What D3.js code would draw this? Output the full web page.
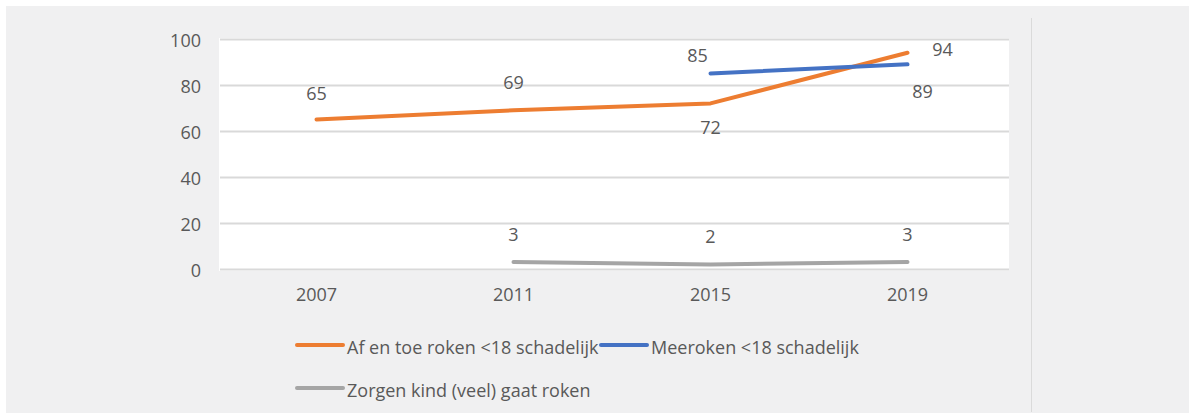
<!DOCTYPE html>
<html>
<head>
<meta charset="utf-8">
<script src="https://cdn.jsdelivr.net/npm/d3@7/dist/d3.min.js"></script>
<style>
  html, body { margin: 0; padding: 0; background: #ffffff; }
  svg { display: block; }
  text { font-family: "Open Sans", sans-serif; fill: #595959; }
</style>
</head>
<body>
<svg id="chart" width="1189" height="414"></svg>
<script>
// ---- data ----
const years = ["2007", "2011", "2015", "2019"];
const afEnToe = [65, 69, 72, 94];
const meeroken = [null, null, 85, 89];
const zorgen = [null, 3, 2, 3];
const seriesNames = ["Af en toe roken <18 schadelijk", "Meeroken <18 schadelijk", "Zorgen kind (veel) gaat roken"];
const yTicks = [0, 20, 40, 60, 80, 100];

// ---- styling / layout ----
const colors = ["#ED7D31", "#4472C4", "#A5A5A5"];
// data label offsets (dx, dy) per series per point
const labelOffsets = [
  [[0, -27], [0, -28], [0, 24], [35, -4]],
  [null, null, [-13, -19], [15, 27]],
  [null, [0, -28], [0, -28], [0, -28]]
];

const svg = d3.select("#chart");
const W = 1189, H = 414;

svg.append("rect").attr("x", 6).attr("y", 6).attr("width", W - 6).attr("height", H - 7).attr("fill", "#f0f0f1");
svg.append("line").attr("x1", 1031.5).attr("x2", 1031.5).attr("y1", 18).attr("y2", 412)
  .attr("stroke", "#dadada").attr("stroke-width", 1);

const plot = { left: 218, right: 1006, top: 39, bottom: 269 };
svg.append("rect").attr("x", 219).attr("y", 38).attr("width", 790).attr("height", 233).attr("fill", "#ffffff");

const x = d3.scaleBand().domain(years).range([plot.left, plot.right]);
const y = d3.scaleLinear().domain([0, 100]).range([plot.bottom, plot.top]);
const cx = d => x(d) + x.bandwidth() / 2;

// gridlines via axis
const grid = svg.append("g").attr("transform", `translate(${plot.left + 2},0)`)
  .call(d3.axisLeft(y).tickValues(yTicks).tickSize(-(plot.right - plot.left + 1)).tickFormat(""));
grid.select(".domain").remove();
grid.selectAll(".tick line").attr("stroke", "#d9d9d9").attr("stroke-width", 2);

// y labels
const yAx = svg.append("g").attr("transform", `translate(201,2)`)
  .call(d3.axisLeft(y).tickValues(yTicks).tickSize(0).tickPadding(0));
yAx.select(".domain").remove();
yAx.selectAll("text").style("font-size", "18px").attr("fill", "#595959").style("font-family", "'Open Sans', sans-serif");

// x labels
const xAx = svg.append("g").attr("transform", `translate(0,${plot.bottom})`)
  .call(d3.axisBottom(x).tickSize(0).tickPadding(19));
xAx.select(".domain").remove();
xAx.selectAll("text").style("font-size", "18px").attr("fill", "#595959").style("font-family", "'Open Sans', sans-serif");

const allSeries = [afEnToe, meeroken, zorgen];
const line = d3.line().defined(d => d.v != null).x(d => cx(d.year)).y(d => y(d.v));

allSeries.forEach((vals, si) => {
  const pts = years.map((yr, i) => ({ year: yr, v: vals[i], i }));
  svg.append("path").datum(pts).attr("d", line).attr("fill", "none")
    .attr("stroke", colors[si]).attr("stroke-width", 4).attr("stroke-linecap", "round").attr("stroke-linejoin", "round");
  svg.append("g").selectAll("text").data(pts.filter(p => p.v != null)).join("text")
    .attr("x", p => cx(p.year) + labelOffsets[si][p.i][0])
    .attr("y", p => y(p.v) + labelOffsets[si][p.i][1])
    .attr("text-anchor", "middle").attr("dominant-baseline", "central")
    .style("font-size", "18px").attr("fill", "#404040")
    .text(p => p.v);
});

// legend
const legendItems = [
  { name: seriesNames[0], color: colors[0], x: 297, y: 345 },
  { name: seriesNames[1], color: colors[1], x: 601, y: 345 },
  { name: seriesNames[2], color: colors[2], x: 297, y: 388 }
];
const lg = svg.append("g").selectAll("g").data(legendItems).join("g");
lg.append("line").attr("x1", d => d.x).attr("x2", d => d.x + 46).attr("y1", d => d.y).attr("y2", d => d.y)
  .attr("stroke", d => d.color).attr("stroke-width", 4).attr("stroke-linecap", "round");
lg.append("text").attr("x", d => d.x + 50).attr("y", d => d.y + 2).attr("dominant-baseline", "central")
  .style("font-size", "18px").text(d => d.name);
</script>
</body>
</html>
